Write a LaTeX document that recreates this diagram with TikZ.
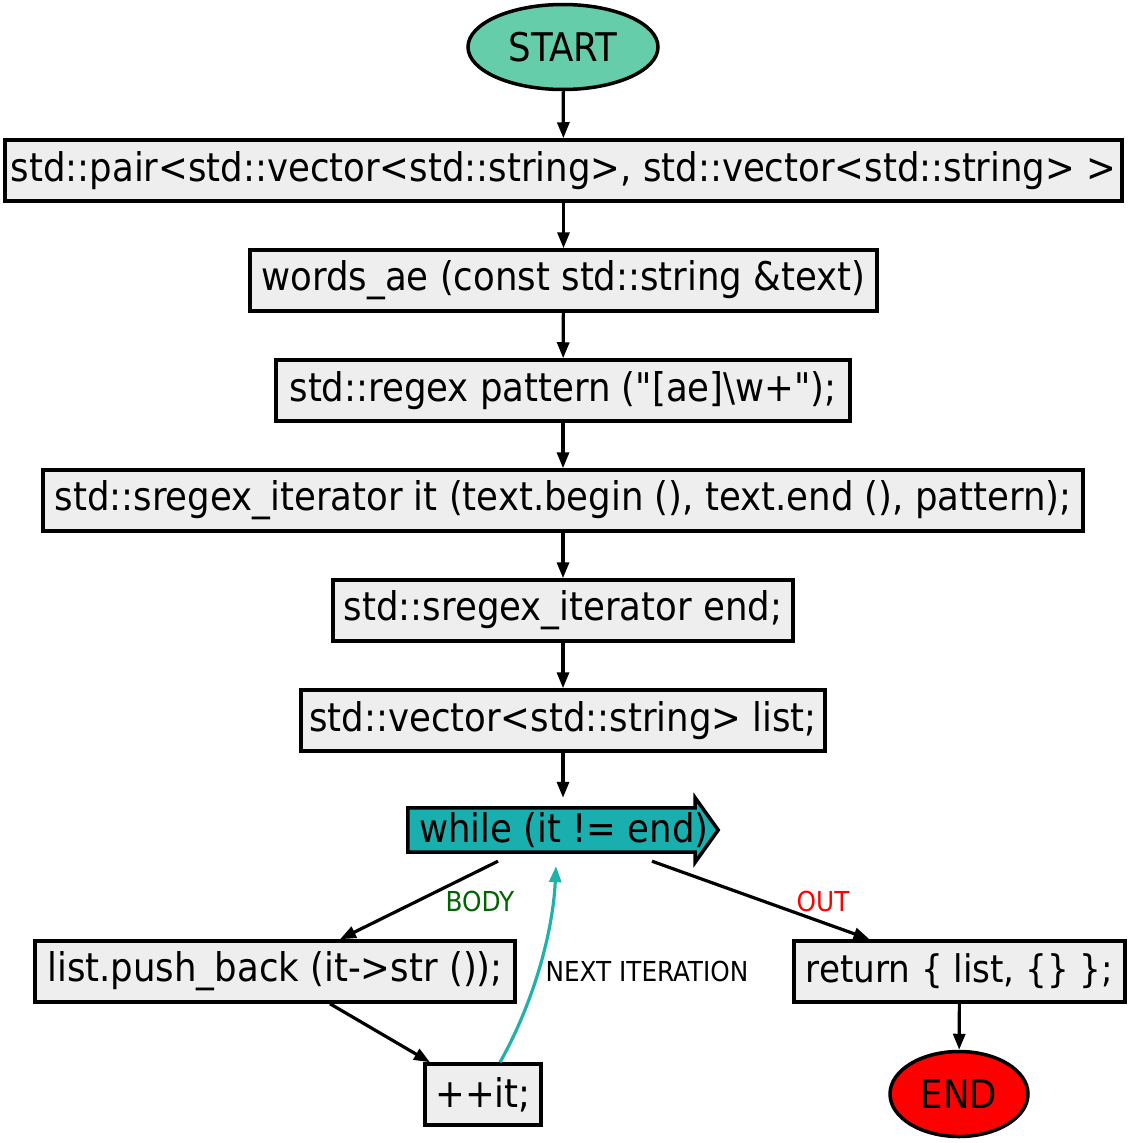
\documentclass[tikz,border=0pt]{standalone}
\usepackage{fontspec}
\setmainfont{DejaVu Sans Condensed}[Ligatures=TeXOff]
\usetikzlibrary{arrows.meta,shapes.geometric}
\definecolor{boxfill}{HTML}{EEEEEE}
\definecolor{startfill}{HTML}{66CDAA}
\definecolor{loopfill}{HTML}{1AAFAF}
\definecolor{teal2}{HTML}{20B2AA}
\definecolor{bodygreen}{HTML}{006400}
\tikzset{
  codebox/.style={draw=black, line width=3.5pt, fill=boxfill, inner sep=0pt, font=\fontsize{39.5}{44}\selectfont},
  term/.style={ellipse, draw=black, line width=3.5pt, inner sep=0pt, font=\fontsize{39.5}{44}\selectfont},
  flow/.style={line width=3.2pt, -{Triangle[length=16pt,width=12pt]}},
  lbl/.style={font=\fontsize{27.5}{32}\selectfont, inner sep=0pt},
}
\begin{document}
\begin{tikzpicture}[x=1pt,y=-1pt]
\useasboundingbox (0,0) rectangle (1130,1143);
\node[term, fill=startfill, minimum width=190pt, minimum height=85pt] (start) at (563,47) {START};
\node[codebox, minimum width=1117pt, minimum height=61pt] (b1) at (563.5,170.5) {std::pair<std::vector<std::string>, std::vector<std::string> >};
\node[codebox, minimum width=627pt, minimum height=61pt] (b2) at (563.5,280.5) {words\_ae (const std::string \&text)};
\node[codebox, minimum width=574pt, minimum height=61pt] (b3) at (563,390.5) {std::regex pattern ("[ae]\textbackslash w+");};
\node[codebox, minimum width=1040pt, minimum height=61pt] (b4) at (563,500.5) {std::sregex\_iterator it (text.begin (), text.end (), pattern);};
\node[codebox, minimum width=460pt, minimum height=61pt] (b5) at (563,610.5) {std::sregex\_iterator end;};
\node[codebox, minimum width=524pt, minimum height=61pt] (b6) at (563,720.5) {std::vector<std::string> list;};
% while loop arrow shape
\node[minimum width=310pt, minimum height=64pt, inner sep=0pt] (wh) at (563,830) {};
\draw[line width=3.5pt, fill=loopfill, line join=miter]
  ([yshift=10pt]wh.south west) -- ([xshift=-23pt,yshift=10pt]wh.south east) -- ([xshift=-23pt]wh.south east)
  -- (wh.east) -- ([xshift=-23pt]wh.north east) -- ([xshift=-23pt,yshift=-10pt]wh.north east)
  -- ([yshift=-10pt]wh.north west) -- cycle;
\node[font=\fontsize{39.5}{44}\selectfont, inner sep=0pt, anchor=west] (whtxt) at (419,830) {while (it != end)};
\node[codebox, minimum width=480pt, minimum height=61pt] (push) at (275,971.5) {list.push\_back (it->str ());};
\node[codebox, minimum width=116pt, minimum height=61pt] (inc) at (483,1094.5) {++it;};
\node[codebox, minimum width=331pt, minimum height=61pt, font=\fontsize{38}{44}\selectfont] (ret) at (959.5,971.5) {return \{ list, \{\} \};};
\node[term, fill=red, minimum width=138pt, minimum height=85pt] (end) at (959,1094) {END};
% edges
\draw[flow] (start) -- (b1);
\draw[flow] (b1) -- (b2);
\draw[flow] (b2) -- (b3);
\draw[flow] (b3) -- (b4);
\draw[flow] (b4) -- (b5);
\draw[flow] (b5) -- (b6);
\draw[flow] (b6) -- (wh.north);
\draw[flow] ([xshift=-65pt,yshift=1pt]wh.south) -- ([xshift=65pt]push.north);
\draw[flow] ([xshift=89pt,yshift=1pt]wh.south) -- ([xshift=-90pt]ret.north);
\draw[flow] ([xshift=55pt]push.south) -- ([xshift=-53pt]inc.north);
\draw[line width=3.2pt, teal2, -{Triangle[length=16pt,width=12pt]}] ([xshift=17pt]inc.north) .. controls (535,1000) and (553,930) .. ([xshift=-7pt,yshift=-4pt]wh.south);
\draw[flow] (ret) -- (end);
% labels
\node[lbl, text=bodygreen] (lbody) at (480,901) {BODY};
\node[lbl, text=red] (lout) at (823,901) {OUT};
\node[lbl] (lnext) at (647,971) {NEXT ITERATION};
\end{tikzpicture}
\end{document}
